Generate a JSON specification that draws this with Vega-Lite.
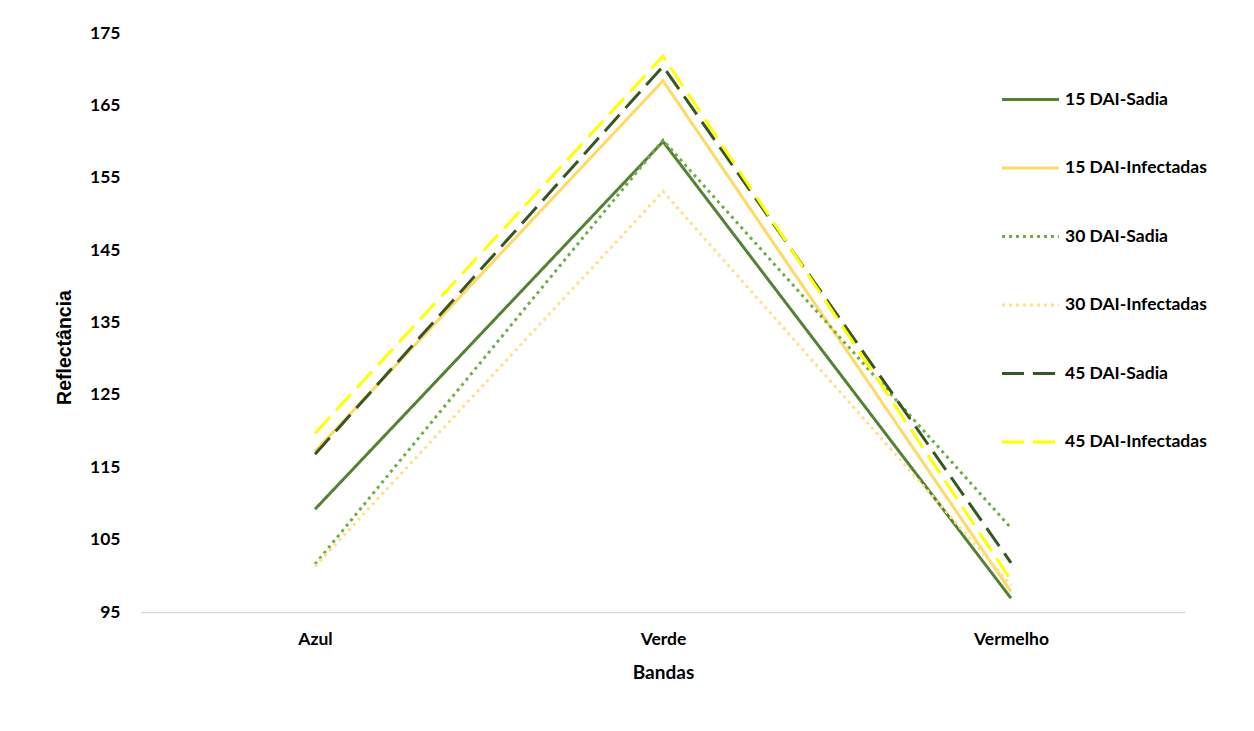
{
  "$schema": "https://vega.github.io/schema/vega-lite/v6.json",
  "width": 1044,
  "height": 579,
  "autosize": {"type": "none"},
  "padding": {"left": 141, "top": 33, "right": 69, "bottom": 119},
  "background": "white",
  "config": {
    "view": {"stroke": null},
    "font": "Lato"
  },
  "data": {
    "values": [
      {"banda": "Azul", "serie": "15 DAI-Sadia", "valor": 109.2},
      {"banda": "Verde", "serie": "15 DAI-Sadia", "valor": 160.0},
      {"banda": "Vermelho", "serie": "15 DAI-Sadia", "valor": 96.9},
      {"banda": "Azul", "serie": "15 DAI-Infectadas", "valor": 117.2},
      {"banda": "Verde", "serie": "15 DAI-Infectadas", "valor": 168.4},
      {"banda": "Vermelho", "serie": "15 DAI-Infectadas", "valor": 97.8},
      {"banda": "Azul", "serie": "30 DAI-Sadia", "valor": 101.6},
      {"banda": "Verde", "serie": "30 DAI-Sadia", "valor": 160.2},
      {"banda": "Vermelho", "serie": "30 DAI-Sadia", "valor": 106.6},
      {"banda": "Azul", "serie": "30 DAI-Infectadas", "valor": 101.3},
      {"banda": "Verde", "serie": "30 DAI-Infectadas", "valor": 153.1},
      {"banda": "Vermelho", "serie": "30 DAI-Infectadas", "valor": 98.7},
      {"banda": "Azul", "serie": "45 DAI-Sadia", "valor": 116.8},
      {"banda": "Verde", "serie": "45 DAI-Sadia", "valor": 170.4},
      {"banda": "Vermelho", "serie": "45 DAI-Sadia", "valor": 101.8},
      {"banda": "Azul", "serie": "45 DAI-Infectadas", "valor": 119.7},
      {"banda": "Verde", "serie": "45 DAI-Infectadas", "valor": 171.8},
      {"banda": "Vermelho", "serie": "45 DAI-Infectadas", "valor": 99.4}
    ]
  },
  "mark": {"type": "line", "strokeWidth": 3, "strokeCap": "butt"},
  "encoding": {
    "x": {
      "field": "banda",
      "type": "nominal",
      "sort": ["Azul", "Verde", "Vermelho"],
      "scale": {"type": "point", "padding": 0.5},
      "axis": {
        "title": "Bandas",
        "titleFontSize": 19,
        "titleFontWeight": "bold",
        "titleColor": "#000",
        "titlePadding": 16,
        "labelAngle": 0,
        "labelFontSize": 17.5,
        "labelFontWeight": "bold",
        "labelColor": "#000",
        "labelPadding": 18,
        "ticks": false,
        "domainColor": "#d9d9d9",
        "domainWidth": 1.5
      }
    },
    "y": {
      "field": "valor",
      "type": "quantitative",
      "scale": {"domain": [95, 175], "nice": false, "zero": false},
      "axis": {
        "title": "Reflectância",
        "titleFont": "Liberation Sans",
        "titleFontSize": 19.5,
        "titleFontWeight": "bold",
        "titleColor": "#000",
        "titlePadding": 15,
        "titleY": 314,
        "values": [95, 105, 115, 125, 135, 145, 155, 165, 175],
        "labelFontSize": 17.5,
        "labelFontWeight": "bold",
        "labelColor": "#000",
        "labelPadding": 21,
        "ticks": false,
        "domain": false,
        "grid": false
      }
    },
    "color": {
      "field": "serie",
      "type": "nominal",
      "sort": ["15 DAI-Sadia", "15 DAI-Infectadas", "30 DAI-Sadia", "30 DAI-Infectadas", "45 DAI-Sadia", "45 DAI-Infectadas"],
      "scale": {
        "domain": ["15 DAI-Sadia", "15 DAI-Infectadas", "30 DAI-Sadia", "30 DAI-Infectadas", "45 DAI-Sadia", "45 DAI-Infectadas"],
        "range": ["#548235", "#FFD966", "#70AD47", "#FFE08A", "#375623", "#FFFF00"]
      },
      "legend": {
        "title": null,
        "orient": "none",
        "legendX": 859,
        "legendY": 36,
        "symbolType": "stroke",
        "symbolSize": 3250,
        "symbolStrokeWidth": 3,
        "rowPadding": 29.5,
        "labelFontSize": 17.5,
        "labelFontWeight": "bold",
        "labelColor": "#000",
        "labelOffset": 4,
        "labelLimit": 300
      }
    },
    "strokeDash": {
      "field": "serie",
      "type": "nominal",
      "sort": ["15 DAI-Sadia", "15 DAI-Infectadas", "30 DAI-Sadia", "30 DAI-Infectadas", "45 DAI-Sadia", "45 DAI-Infectadas"],
      "scale": {
        "domain": ["15 DAI-Sadia", "15 DAI-Infectadas", "30 DAI-Sadia", "30 DAI-Infectadas", "45 DAI-Sadia", "45 DAI-Infectadas"],
        "range": [[1, 0], [1, 0], [3, 4], [3, 4], [22, 9], [22, 9]]
      },
      "legend": null
    }
  }
}
